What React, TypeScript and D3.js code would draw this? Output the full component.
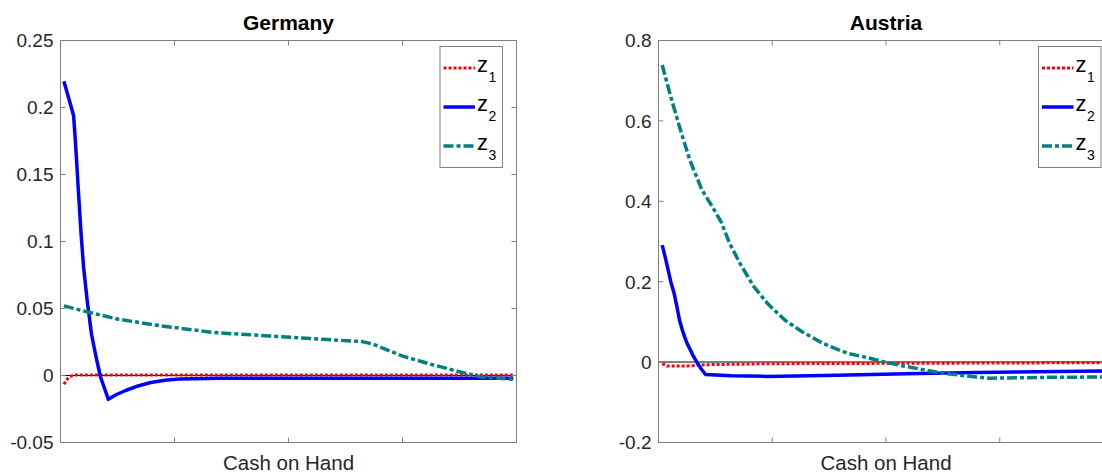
import React from "react";
import * as d3 from "d3";

// ---- Data (x in % of the cash-on-hand axis range) ----
const germanyZ1X = [0.75, 1.3, 1.8, 2.4, 3.2, 99.3];
const germanyZ1Y = [-0.0066, -0.0035, -0.0015, -0.0003, 0.0003, 0.0003];

const germanyZ2X = [0.75, 2.87, 3.2, 3.5, 3.88, 4.52, 5.07, 5.86, 6.8, 7.83, 8.77, 10.5, 11.4, 12.4, 14.3, 17.0, 19.8, 22.9, 26.1, 35.0, 99.3];
const germanyZ2Y = [0.2196, 0.194, 0.178, 0.162, 0.14, 0.1055, 0.0806, 0.0557, 0.0308, 0.0133, -0.0011, -0.0178, -0.0158, -0.014, -0.0112, -0.0078, -0.0052, -0.0035, -0.0026, -0.002, -0.002];

const germanyZ3X = [0.75, 6.4, 12.7, 22.1, 33.9, 45.7, 57.5, 66.2, 68.6, 74.9, 81.2, 87.5, 92.2, 99.3];
const germanyZ3Y = [0.052, 0.047, 0.042, 0.037, 0.032, 0.0295, 0.027, 0.0253, 0.0233, 0.0146, 0.0084, 0.0028, -0.001, -0.0028];

const austriaZ1X = [0.81, 1.96, 5.76, 10.33, 24.0, 52.0, 97.5, 99.2];
const austriaZ1Y = [-0.004, -0.01, -0.01, -0.0065, -0.004, -0.003, -0.0015, -0.0015];

const austriaZ2X = [0.81, 1.4, 1.96, 2.7, 3.5, 4.1, 4.62, 5.2, 5.76, 6.3, 6.9, 7.6, 8.42, 9.4, 10.33, 16.0, 24.02, 39.23, 54.48, 69.71, 97.47, 99.2];
const austriaZ2Y = [0.291, 0.265, 0.237, 0.2, 0.168, 0.135, 0.104, 0.081, 0.062, 0.046, 0.033, 0.016, 0.0, -0.017, -0.031, -0.034, -0.0356, -0.033, -0.029, -0.026, -0.022, -0.0218];

const austriaZ3X = [0.81, 2.7, 4.62, 6.9, 9.56, 11.85, 13.76, 15.65, 17.93, 20.99, 24.02, 27.82, 31.65, 36.22, 41.54, 46.86, 50.29, 54.48, 62.09, 69.71, 72.75, 84.95, 97.47, 99.2];
const austriaZ3Y = [0.739, 0.66, 0.585, 0.502, 0.428, 0.386, 0.349, 0.295, 0.245, 0.187, 0.145, 0.104, 0.075, 0.046, 0.022, 0.0085, -0.0015, -0.011, -0.027, -0.037, -0.04, -0.038, -0.037, -0.037];

const germanyTicks = [0.25, 0.2, 0.15, 0.1, 0.05, 0, -0.05];
const germanyTickLabels = ["0.25", "0.2", "0.15", "0.1", "0.05", "0", "-0.05"];
const austriaTicks = [0.8, 0.6, 0.4, 0.2, 0, -0.2];
const austriaTickLabels = ["0.8", "0.6", "0.4", "0.2", "0", "-0.2"];
const xTicks = [25, 50, 75];
const seriesNames = ["1", "2", "3"];

const FONT = "'Liberation Sans', Arial, Helvetica, sans-serif";

const styles = [
  { color: "#ff0000", width: 3, dash: "3,2" },
  { color: "#0000ff", width: 3.5, dash: "none" },
  { color: "#008080", width: 3.5, dash: "10,3,4,3" },
];

type Series = { x: number[]; y: number[] };

function Panel(props: {
  left: number; right: number; top: number; bottom: number;
  title: string; yDomain: [number, number]; ticks: number[]; tickLabels: string[];
  series: Series[]; zeroColor: string; zeroWidth: number; legendLeft: number; legendRight: number;
}) {
  const { left, right, top, bottom } = props;
  const xs = d3.scaleLinear().domain([0, 100]).range([left, right]);
  const ys = d3.scaleLinear().domain(props.yDomain).range([bottom, top]);
  const line = d3.line<[number, number]>()
    .x((d) => xs(d[0]))
    .y((d) => ys(d[1]))
    .curve(d3.curveLinear);
  const cx = (left + right) / 2;
  const rows = [68, 107, 146];
  return (
    <g>
      <text x={cx} y={29.5} textAnchor="middle" fontFamily={FONT} fontWeight="bold" fontSize={21} fill="#000">
        {props.title}
      </text>
      <line x1={left} x2={right} y1={ys(0)} y2={ys(0)} stroke={props.zeroColor} strokeWidth={props.zeroWidth} />
      {props.series.map((s, i) => (
        <path
          key={i}
          d={line(s.x.map((v, j) => [v, s.y[j]] as [number, number])) || ""}
          fill="none"
          stroke={styles[i].color}
          strokeWidth={styles[i].width}
          strokeDasharray={styles[i].dash}
          strokeLinejoin="round"
        />
      ))}
      <rect x={left} y={top} width={right - left} height={bottom - top} fill="none" stroke="#808080" strokeWidth={1} />
      {props.ticks.map((t, i) => (
        <g key={"yt" + i}>
          <line x1={left} x2={left + 5} y1={ys(t)} y2={ys(t)} stroke="#808080" />
          <line x1={right} x2={right - 5} y1={ys(t)} y2={ys(t)} stroke="#808080" />
          <text x={left - 7} y={ys(t)} dy="0.36em" textAnchor="end" fontFamily={FONT} fontSize={19} fill="#262626">
            {props.tickLabels[i]}
          </text>
        </g>
      ))}
      {xTicks.map((t, i) => (
        <g key={"xt" + i}>
          <line x1={xs(t)} x2={xs(t)} y1={bottom} y2={bottom - 5} stroke="#808080" />
          <line x1={xs(t)} x2={xs(t)} y1={top} y2={top + 5} stroke="#808080" />
        </g>
      ))}
      <text x={cx} y={470} textAnchor="middle" fontFamily={FONT} fontSize={20.5} fill="#262626">
        Cash on Hand
      </text>
      <rect x={props.legendLeft} y={46.5} width={props.legendRight - props.legendLeft} height={121} fill="#fff" stroke="#808080" strokeWidth={1} />
      {rows.map((ry, i) => (
        <g key={"lg" + i}>
          <line
            x1={props.legendLeft + 3.5}
            x2={props.legendLeft + 35}
            y1={ry}
            y2={ry}
            stroke={styles[i].color}
            strokeWidth={styles[i].width}
            strokeDasharray={styles[i].dash}
          />
          <text x={props.legendLeft + 37} y={ry + 3.5} fontFamily={FONT} fontSize={22} fill="#000">z</text>
          <text x={props.legendLeft + 48.5} y={ry + 13.5} fontFamily={FONT} fontSize={14} fill="#000">
            {seriesNames[i]}
          </text>
        </g>
      ))}
    </g>
  );
}

export default function App() {
  return (
    <svg width={1102} height={474} style={{ position: "absolute", left: 0, top: 0, background: "#fff" }}>
      <rect x={0} y={0} width={1102} height={474} fill="#fff" />
      <Panel
        left={60.5} right={516.5} top={40.5} bottom={442.5}
        title="Germany" yDomain={[-0.05, 0.25]} ticks={germanyTicks} tickLabels={germanyTickLabels}
        series={[
          { x: germanyZ1X, y: germanyZ1Y },
          { x: germanyZ2X, y: germanyZ2Y },
          { x: germanyZ3X, y: germanyZ3Y },
        ]}
        zeroColor="#000" zeroWidth={1} legendLeft={440} legendRight={502.5}
      />
      <Panel
        left={658.5} right={1113.5} top={40.5} bottom={442.5}
        title="Austria" yDomain={[-0.2, 0.8]} ticks={austriaTicks} tickLabels={austriaTickLabels}
        series={[
          { x: austriaZ1X, y: austriaZ1Y },
          { x: austriaZ2X, y: austriaZ2Y },
          { x: austriaZ3X, y: austriaZ3Y },
        ]}
        zeroColor="#555" zeroWidth={1.5} legendLeft={1038.5} legendRight={1101}
      />
    </svg>
  );
}
